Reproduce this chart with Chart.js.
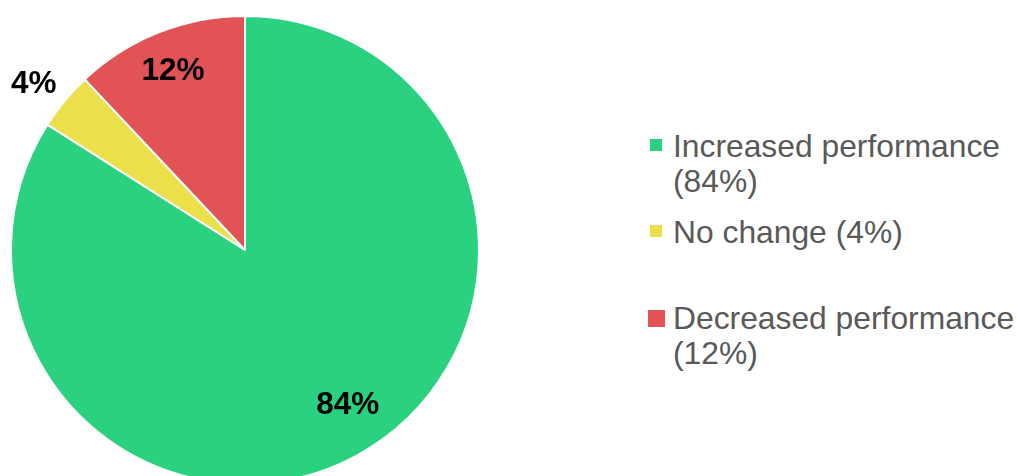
<!DOCTYPE html>
<html>
<head>
<meta charset="utf-8">
<script src="https://cdn.jsdelivr.net/npm/chart.js@4/dist/chart.umd.min.js"></script>
<style>
  html, body { margin: 0; padding: 0; background: #fff; overflow: hidden; width: 1017px; height: 476px; }
  #wrap { position: absolute; left: 10px; top: 15px; width: 470px; height: 470px; }
  .legend-item { position: absolute; left: 648px; width: 369px; font-family: "Liberation Sans", Arial, sans-serif; font-size: 31.8px; line-height: 34.5px; color: #595959; }
  .legend-item .box { position: absolute; }
  .legend-item .txt { margin-left: 25px; white-space: normal; }
</style>
</head>
<body>
<div id="wrap"><canvas id="chart" width="470" height="470"></canvas></div>
<div id="legend"></div>
<script>
// data
var labels = ['Increased performance', 'No change', 'Decreased performance'];
var values = [84, 4, 12];
var colors = ['#2ad17f', '#ebe04a', '#e25355'];

// label placement: distance from centre (fraction of radius) and angle nudge (deg)
var labelRadius = [0.788, 1.155, 0.835];
var labelNudge = [-5.1, -1, 0];

var sliceLabels = {
    id: 'sliceLabels',
    afterDatasetsDraw: function(chart) {
        var ctx = chart.ctx;
        var meta = chart.getDatasetMeta(0);
        var size = 31.5;
        ctx.save();
        ctx.font = 'bold ' + size + 'px "Liberation Sans", Arial, sans-serif';
        ctx.fillStyle = '#000';
        ctx.textAlign = 'center';
        ctx.textBaseline = 'alphabetic';
        meta.data.forEach(function(arc, i) {
            var mid = (arc.startAngle + arc.endAngle) / 2 + labelNudge[i] * Math.PI / 180;
            var r = arc.outerRadius * labelRadius[i];
            var x = arc.x + Math.cos(mid) * r;
            var y = arc.y + Math.sin(mid) * r + size * 0.358;
            ctx.fillText(values[i] + '%', x, y);
        });
        ctx.restore();
    }
};

var ctx = document.getElementById('chart').getContext('2d');
var chart = new Chart(ctx, {
    type: 'pie',
    data: {
        labels: labels,
        datasets: [{
            data: values,
            backgroundColor: colors,
            borderColor: '#ffffff',
            borderWidth: 2
        }]
    },
    options: {
        responsive: false,
        animation: false,
        layout: { padding: 0 },
        plugins: {
            legend: { display: false },
            tooltip: { enabled: false }
        }
    },
    plugins: [sliceLabels]
});

// legend (html)
var legendTops = [129, 215, 301];
var boxSizes = [12, 12, 17];
var legend = document.getElementById('legend');
labels.forEach(function(l, i) {
    var item = document.createElement('div');
    item.className = 'legend-item';
    item.style.top = legendTops[i] + 'px';
    var box = document.createElement('span');
    box.className = 'box';
    box.style.width = boxSizes[i] + 'px';
    box.style.height = boxSizes[i] + 'px';
    box.style.left = (i == 2 ? 0 : 2) + 'px';
    box.style.top = (i == 2 ? 9 : 10) + 'px';
    box.style.background = colors[i];
    var txt = document.createElement('div');
    txt.className = 'txt';
    txt.textContent = l + ' (' + values[i] + '%)';
    item.appendChild(box);
    item.appendChild(txt);
    legend.appendChild(item);
});
</script>
</body>
</html>
